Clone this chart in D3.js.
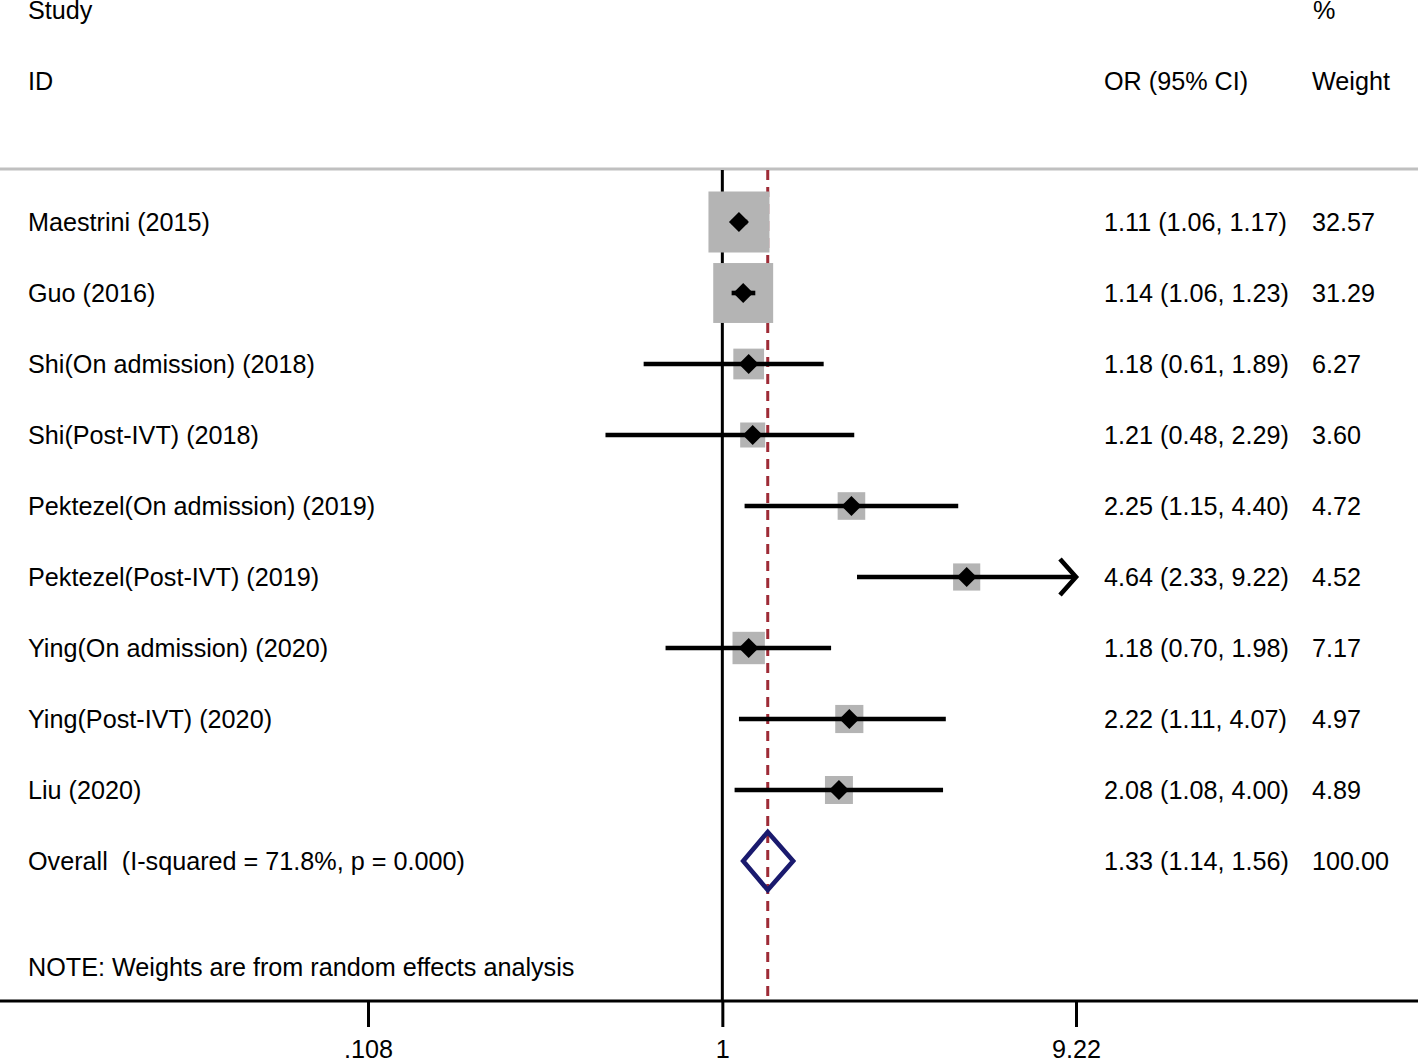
<!DOCTYPE html>
<html>
<head>
<meta charset="utf-8">
<script src="https://cdn.jsdelivr.net/npm/d3@7"></script>
<style>
  html, body { margin: 0; padding: 0; background: #fff; }
  svg { display: block; }
  text { font-family: "Liberation Sans", Arial, Helvetica, sans-serif; fill: #000; }
</style>
</head>
<body>
<svg id="chart" width="1418" height="1059"></svg>
<script>
const studies = [
  "Maestrini (2015)",
  "Guo (2016)",
  "Shi(On admission) (2018)",
  "Shi(Post-IVT) (2018)",
  "Pektezel(On admission) (2019)",
  "Pektezel(Post-IVT) (2019)",
  "Ying(On admission) (2020)",
  "Ying(Post-IVT) (2020)",
  "Liu (2020)"
];
const orValues = [1.11, 1.14, 1.18, 1.21, 2.25, 4.64, 1.18, 2.22, 2.08];
const ciLow    = [1.06, 1.06, 0.61, 0.48, 1.15, 2.33, 0.70, 1.11, 1.08];
const ciHigh   = [1.17, 1.23, 1.89, 2.29, 4.40, 9.22, 1.98, 4.07, 4.00];
const weights  = [32.57, 31.29, 6.27, 3.60, 4.72, 4.52, 7.17, 4.97, 4.89];
const overallLabel = "Overall  (I-squared = 71.8%, p = 0.000)";
const overallOR = 1.33, overallLow = 1.14, overallHigh = 1.56, overallWeight = 100.00;
const tickValues = [0.108, 1, 9.22];
const tickLabels = [".108", "1", "9.22"];
const noteText = "NOTE: Weights are from random effects analysis";

const fmt2 = d3.format(".2f");
const svg = d3.select("#chart");
const W = 1418;

const x = d3.scaleLog().domain([tickValues[0], tickValues[2]]).range([368, 1076]);
const y = d3.scaleLinear().domain([0, 9]).range([222, 861]);
const boxSize = d3.scaleLinear()
  .domain([Math.sqrt(3.60), Math.sqrt(32.57)]).range([25, 61]);

const fs = 25.2;
const colLeft = 28, colOR = 1104, colW = 1312;
const plotTop = 170, axisY = 1001;

// headers
svg.append("text").attr("x", colLeft).attr("y", 10).attr("dy", "0.35em").attr("font-size", fs).text("Study");
svg.append("text").attr("x", colLeft).attr("y", 81).attr("dy", "0.35em").attr("font-size", fs).text("ID");
svg.append("text").attr("x", colOR).attr("y", 81).attr("dy", "0.35em").attr("font-size", fs).text("OR (95% CI)");
svg.append("text").attr("x", colW + 1).attr("y", 10).attr("dy", "0.35em").attr("font-size", fs).text("%");
svg.append("text").attr("x", colW).attr("y", 81).attr("dy", "0.35em").attr("font-size", fs).text("Weight");

// gray separator
svg.append("line").attr("x1", 0).attr("x2", W).attr("y1", 169).attr("y2", 169)
  .attr("stroke", "#c0c0c0").attr("stroke-width", 3);

// null line
svg.append("line").attr("x1", x(1)).attr("x2", x(1)).attr("y1", plotTop).attr("y2", axisY)
  .attr("stroke", "#000").attr("stroke-width", 3);

// overall dashed line
svg.append("line").attr("x1", x(overallOR)).attr("x2", x(overallOR)).attr("y1", plotTop).attr("y2", axisY)
  .attr("stroke", "#9e2b36").attr("stroke-width", 3).attr("stroke-dasharray", "10,7");

const rows = studies.map((s, i) => ({
  name: s, or: orValues[i], lo: ciLow[i], hi: ciHigh[i], w: weights[i], i
}));

const g = svg.append("g");
// boxes
g.selectAll("rect.box").data(rows).join("rect").attr("class", "box")
  .attr("x", d => x(d.or) - boxSize(Math.sqrt(d.w)) / 2)
  .attr("y", d => y(d.i) - boxSize(Math.sqrt(d.w)) / 2)
  .attr("width", d => boxSize(Math.sqrt(d.w)))
  .attr("height", d => boxSize(Math.sqrt(d.w)))
  .attr("fill", "#b4b4b4");

// CI lines
g.selectAll("line.ci").data(rows).join("line").attr("class", "ci")
  .attr("x1", d => x(d.lo)).attr("x2", d => x(Math.min(d.hi, tickValues[2])))
  .attr("y1", d => y(d.i)).attr("y2", d => y(d.i))
  .attr("stroke", "#000").attr("stroke-width", 4.6);

// arrows for clipped CIs
g.selectAll("path.arrow").data(rows.filter(d => d.hi >= tickValues[2])).join("path").attr("class", "arrow")
  .attr("d", d => {
    const tx = x(tickValues[2]), ty = y(d.i);
    return `M${tx - 16},${ty - 18} L${tx},${ty} L${tx - 16},${ty + 18}`;
  })
  .attr("fill", "none").attr("stroke", "#000").attr("stroke-width", 4.6);

// point diamonds
g.selectAll("path.pt").data(rows).join("path").attr("class", "pt")
  .attr("d", d => {
    const cx = x(d.or), cy = y(d.i), r = 10;
    return `M${cx},${cy - r} L${cx + r},${cy} L${cx},${cy + r} L${cx - r},${cy} Z`;
  })
  .attr("fill", "#000");

// overall diamond
{
  const cy = y(9), h = 29;
  svg.append("path")
    .attr("d", `M${x(overallLow)},${cy} L${x(overallOR)},${cy - h} L${x(overallHigh)},${cy} L${x(overallOR)},${cy + h} Z`)
    .attr("fill", "none").attr("stroke", "#1a1a6e").attr("stroke-width", 4.6);
}

// row labels
const labels = rows.map(d => ({ name: d.name, ci: `${fmt2(d.or)} (${fmt2(d.lo)}, ${fmt2(d.hi)})`, w: fmt2(d.w), i: d.i }));
labels.push({ name: overallLabel, ci: `${fmt2(overallOR)} (${fmt2(overallLow)}, ${fmt2(overallHigh)})`, w: fmt2(overallWeight), i: 9 });

svg.selectAll("text.name").data(labels).join("text").attr("class", "name")
  .attr("x", colLeft).attr("y", d => y(d.i)).attr("dy", "0.35em").attr("font-size", fs)
  .attr("xml:space", "preserve").style("white-space", "pre").text(d => d.name);
svg.selectAll("text.ci").data(labels).join("text").attr("class", "ci")
  .attr("x", colOR).attr("y", d => y(d.i)).attr("dy", "0.35em").attr("font-size", fs).text(d => d.ci);
svg.selectAll("text.wt").data(labels).join("text").attr("class", "wt")
  .attr("x", colW).attr("y", d => y(d.i)).attr("dy", "0.35em").attr("font-size", fs).text(d => d.w);

// note
svg.append("text").attr("x", colLeft).attr("y", 967).attr("dy", "0.35em").attr("font-size", fs).text(noteText);

// axis
svg.append("line").attr("x1", 0).attr("x2", W).attr("y1", axisY).attr("y2", axisY)
  .attr("stroke", "#000").attr("stroke-width", 3);
const axis = d3.axisBottom(x).tickValues(tickValues).tickFormat((d, i) => tickLabels[i])
  .tickSize(26).tickSizeOuter(0).tickPadding(13);
const ax = svg.append("g").attr("transform", `translate(0,${axisY})`).call(axis);
ax.select(".domain").remove();
ax.selectAll(".tick line").attr("stroke", "#000").attr("stroke-width", 3);
ax.selectAll(".tick text").attr("font-size", fs).attr("font-family", "Liberation Sans, Arial, sans-serif").attr("fill", "#000");
</script>
</body>
</html>
